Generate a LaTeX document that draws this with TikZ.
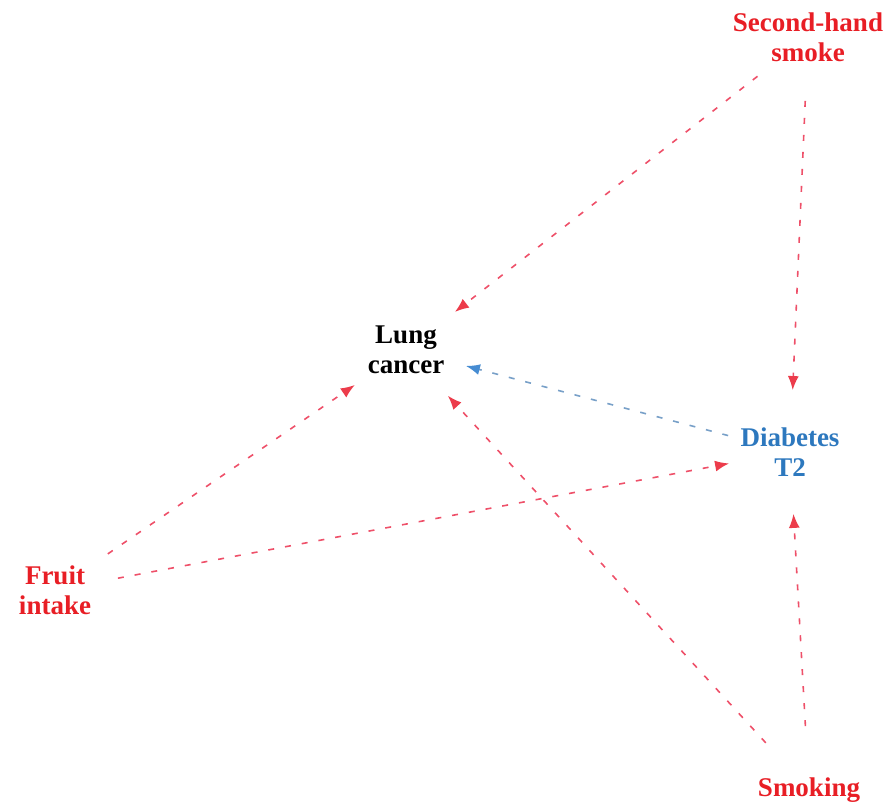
\documentclass[tikz,border=0pt]{standalone}
\usepackage{fontspec}
\setmainfont{Liberation Serif}
\usetikzlibrary{arrows.meta}
\definecolor{txtred}{RGB}{232,30,37}
\definecolor{txtblue}{RGB}{45,120,190}
\definecolor{edgered}{RGB}{238,80,105}
\definecolor{tipred}{RGB}{236,60,75}
\definecolor{edgeblue}{RGB}{120,160,200}
\definecolor{tipblue}{RGB}{70,140,210}
\tikzset{
  lbl/.style={align=center, font=\fontsize{27}{30}\selectfont\bfseries, inner sep=0pt},
  link/.style={draw=edgered, line width=1.6pt, dash pattern=on 6pt off 11pt,
    -{Latex[length=14pt,width=11pt,color=tipred]}, shorten <=64pt, shorten >=62pt},
  bluelink/.style={link, draw=edgeblue, -{Latex[length=14pt,width=11pt,color=tipblue]}}
}
\begin{document}
\begin{tikzpicture}[x=1pt,y=-1pt]
\useasboundingbox (0,0) rectangle (891,806);
\node[lbl, text=txtred] (ssm) at (808,37) {Second-hand\\smoke};
\node[lbl, text=black] (lung) at (406,350) {Lung\\cancer};
\node[lbl, text=txtblue] (dia) at (790,452) {Diabetes\\T2};
\node[lbl, text=txtred] (fruit) at (55,590) {Fruit\\intake};
\node[lbl, text=txtred] (smk) at (809,790) {Smoking};
\draw[link] (ssm.center) -- (lung.center);
\draw[link] (ssm.center) -- (dia.center);
\draw[link] (fruit.center) -- (lung.center);
\draw[link] (fruit.center) -- (dia.center);
\draw[bluelink] (dia.center) -- (lung.center);
\draw[link] (smk.center) -- (lung.center);
\draw[link] (smk.center) -- (dia.center);
\end{tikzpicture}
\end{document}
